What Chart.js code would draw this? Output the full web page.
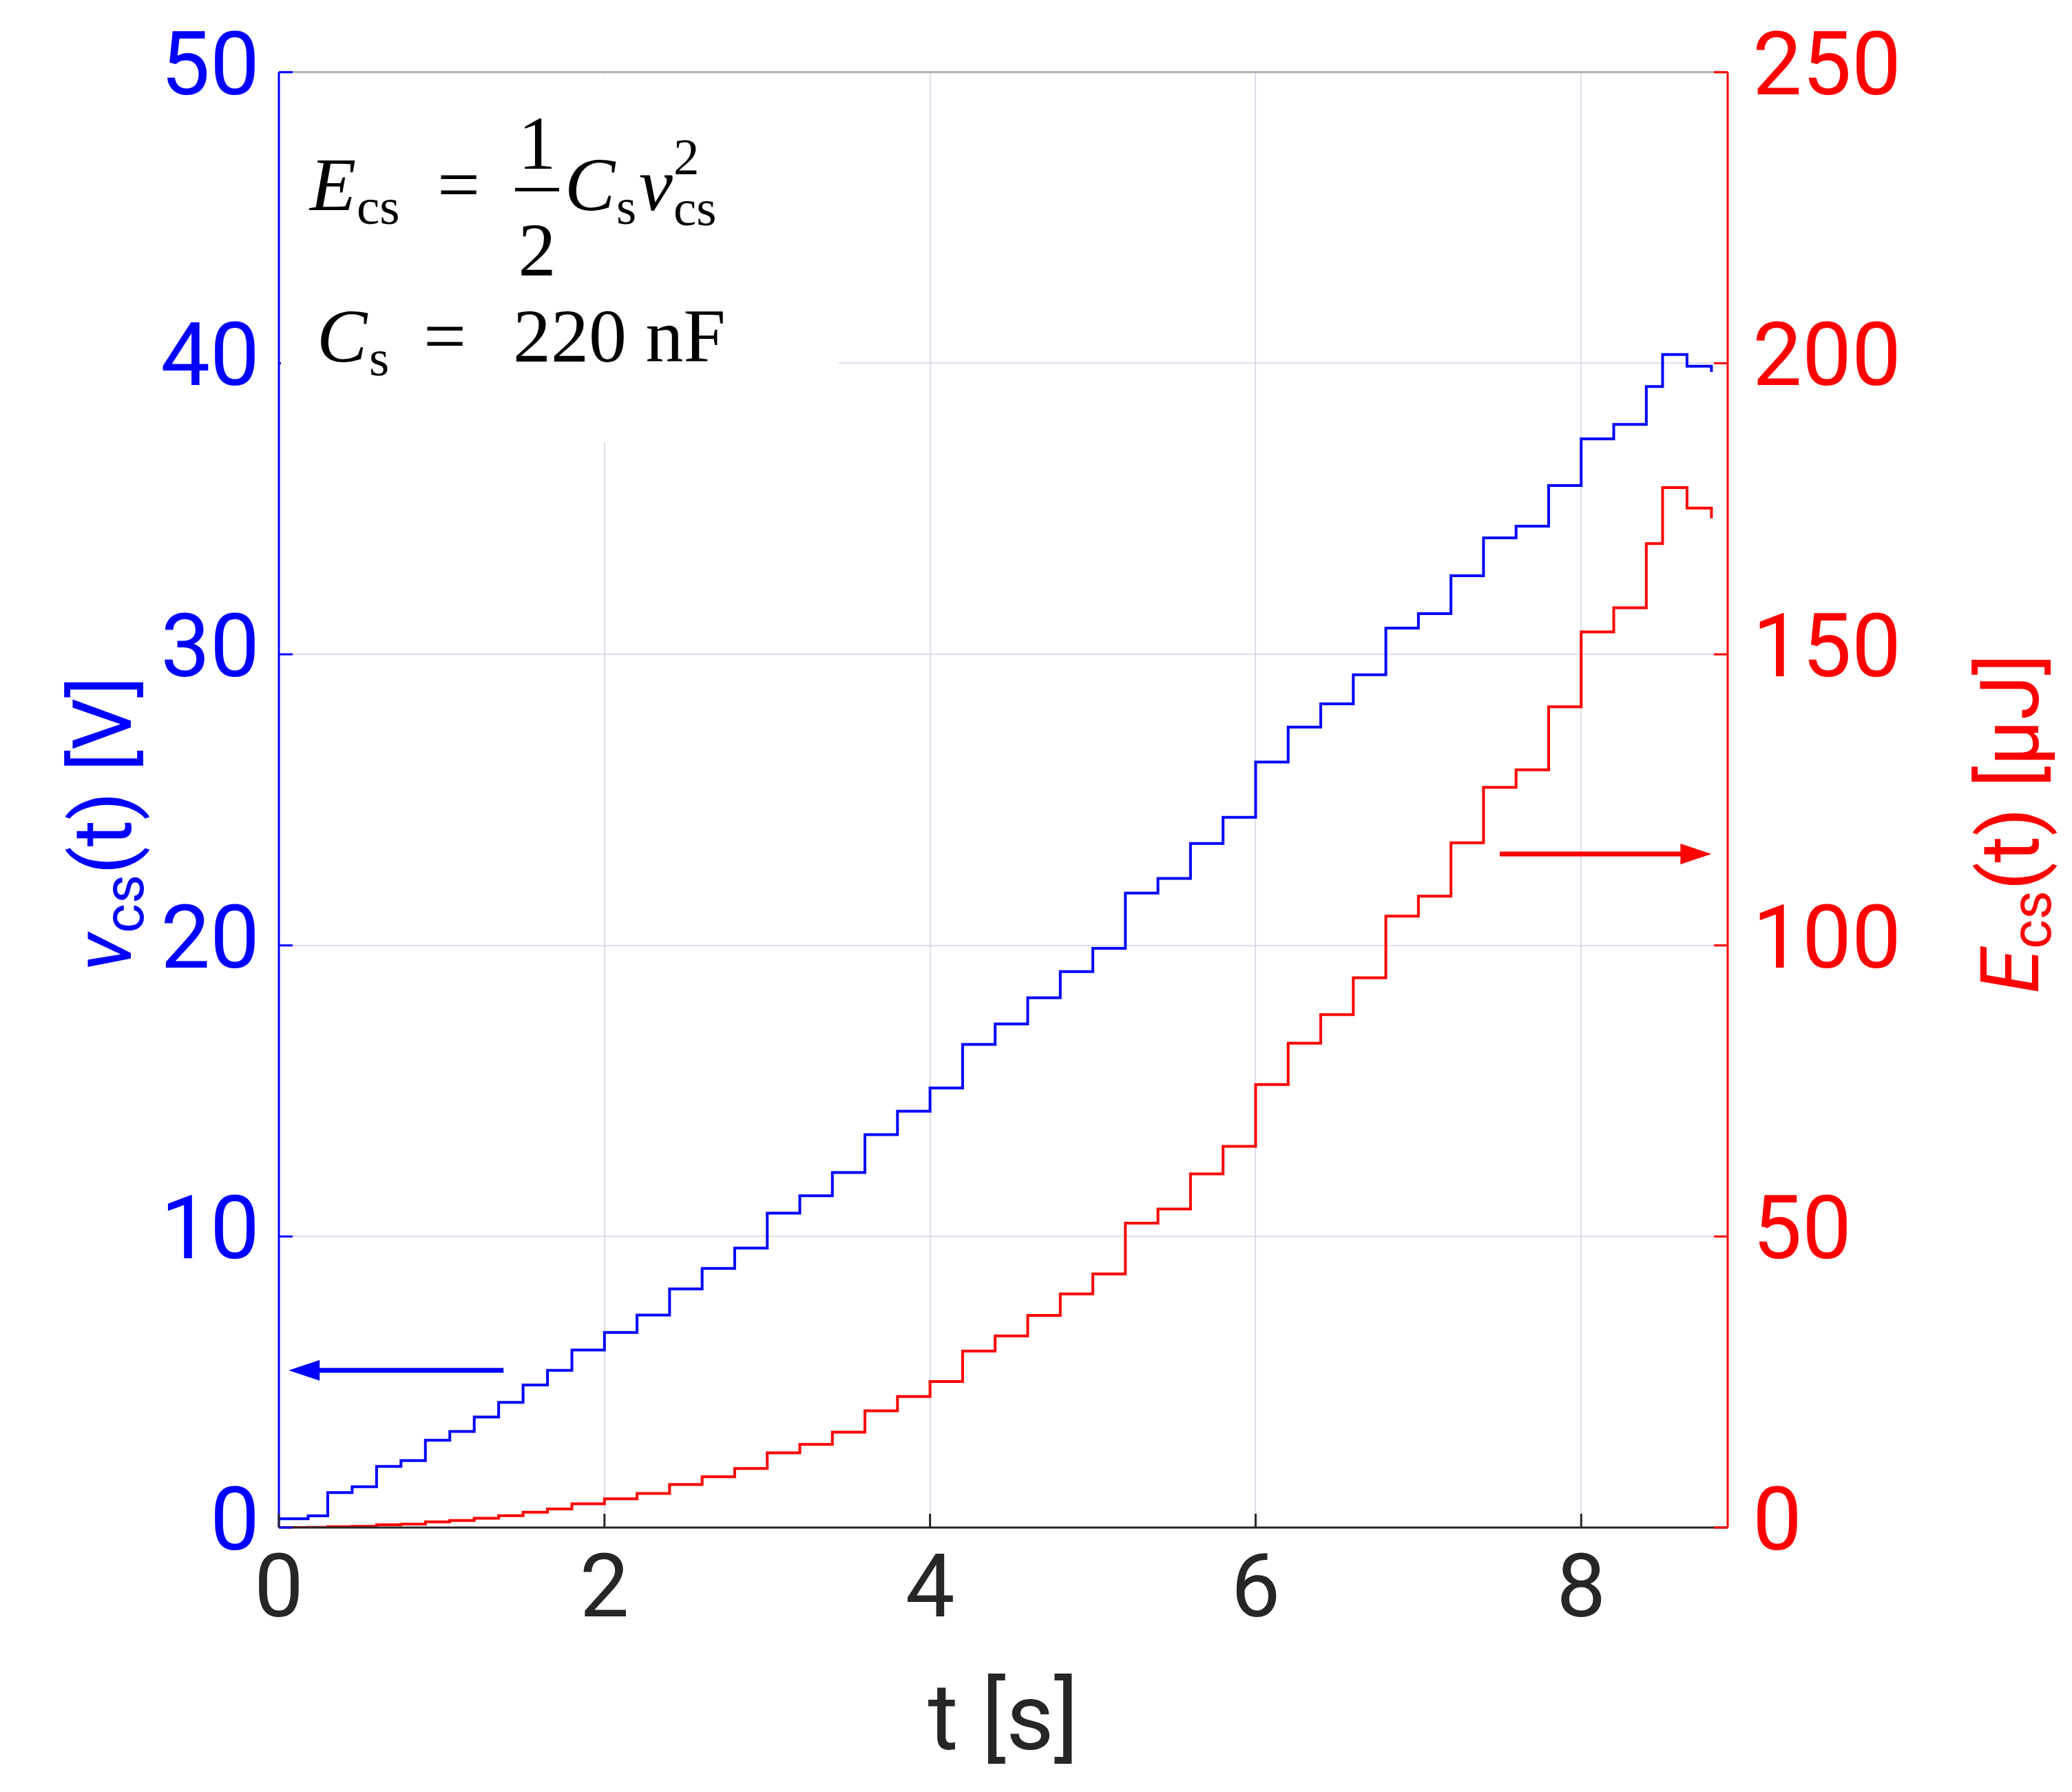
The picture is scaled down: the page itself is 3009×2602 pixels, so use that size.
<!DOCTYPE html>
<html><head><meta charset="utf-8">
<script src="https://cdn.jsdelivr.net/npm/chart.js@4"></script>
<style>html,body{margin:0;padding:0;background:#fff}canvas{display:block}</style>
</head><body>
<canvas id="c" width="3009" height="2602"></canvas>
<script>
// Step times [s] and capacitor voltage levels [V]
const stepTimes = [0,0.18,0.3,0.45,0.6,0.75,0.9,1.05,1.2,1.35,1.5,1.65,1.8,2.0,2.2,2.4,2.6,2.8,3.0,3.2,3.4,3.6,3.8,4.0,4.2,4.4,4.6,4.8,5.0,5.2,5.4,5.6,5.8,6.0,6.2,6.4,6.6,6.8,7.0,7.2,7.4,7.6,7.8,8.0,8.2,8.4,8.5,8.65,8.8];
const vcsLevels = [0.3,0.4,1.2,1.4,2.1,2.3,3.0,3.3,3.8,4.3,4.9,5.4,6.1,6.7,7.3,8.2,8.9,9.6,10.8,11.4,12.2,13.5,14.3,15.1,16.6,17.3,18.2,19.1,19.9,21.8,22.3,23.5,24.4,26.3,27.5,28.3,29.3,30.9,31.4,32.7,34.0,34.4,35.8,37.4,37.9,39.2,40.3,39.9,39.7];
const Cs = 220e-9; // F, from the annotation E = 1/2 Cs v^2
const ecsLevels = vcsLevels.map(v => 0.5 * Cs * v * v * 1e6); // µJ
const xTicks = [0,2,4,6,8];

const BLUE = '#0000ff', RED = '#ff0000', GRID = 'rgba(200,200,225,0.6)';
const vData = stepTimes.map((t,i)=>({x:t,y:vcsLevels[i]}));
const eData = stepTimes.map((t,i)=>({x:t,y:ecsLevels[i]}));

const deco = {
  id:'deco',
  afterDraw(ch){
    const c = ch.ctx, a = ch.chartArea, x = ch.scales.x, yl = ch.scales.y, yr = ch.scales.y2;
    c.save();
    c.lineWidth = 3; c.strokeStyle = '#b0b0b0';
    c.beginPath(); c.moveTo(a.left,a.top); c.lineTo(a.right,a.top); c.stroke();
    c.strokeStyle = '#262626';
    c.beginPath(); c.moveTo(a.left,a.bottom); c.lineTo(a.right,a.bottom); c.stroke();
    c.strokeStyle = BLUE; c.beginPath(); c.moveTo(a.left,a.top); c.lineTo(a.left,a.bottom); c.stroke();
    c.strokeStyle = RED; c.beginPath(); c.moveTo(a.right,a.top); c.lineTo(a.right,a.bottom); c.stroke();
    c.lineWidth = 3;
    [0,10,20,30,40,50].forEach(v=>{const p=yl.getPixelForValue(v);c.strokeStyle=BLUE;c.beginPath();c.moveTo(a.left,p);c.lineTo(a.left+20,p);c.stroke();});
    [0,50,100,150,200,250].forEach(v=>{const p=yr.getPixelForValue(v);c.strokeStyle=RED;c.beginPath();c.moveTo(a.right,p);c.lineTo(a.right-20,p);c.stroke();});
    xTicks.forEach(v=>{const p=x.getPixelForValue(v);c.strokeStyle='#262626';c.beginPath();c.moveTo(p,a.bottom);c.lineTo(p,a.bottom-20);c.stroke();});
    // annotation box
    c.fillStyle='#fff'; c.fillRect(a.left+3,a.top+3,810,535);
    c.fillStyle='#000'; c.textBaseline='alphabetic';
    const S='"Liberation Serif","DejaVu Serif",serif';
    let bx=a.left+45, by=a.top+200;
    c.font='italic 110px '+S; c.fillText('E',bx,by);
    c.font='75px '+S; c.fillText('cs',bx+68,by+20);
    c.font='110px '+S; c.fillText('=',bx+185,by);
    c.textAlign='center'; c.fillText('1',bx+330,by-60); c.fillText('2',bx+330,by+95);
    c.fillRect(bx+298,by-32,64,5); c.textAlign='left';
    c.font='italic 110px '+S; c.fillText('C',bx+370,by);
    c.font='75px '+S; c.fillText('s',bx+445,by+20);
    c.font='italic 110px '+S; c.fillText('v',bx+478,by);
    c.font='75px '+S; c.fillText('cs',bx+528,by+22); c.fillText('2',bx+528,by-52);
    by=a.top+420; bx=a.left+55;
    c.font='italic 110px '+S; c.fillText('C',bx,by);
    c.font='75px '+S; c.fillText('s',bx+76,by+20);
    c.font='110px '+S; c.fillText('=',bx+155,by); c.fillText('220 nF',bx+285,by);
    const arrow=(x1,x2,y,col)=>{c.strokeStyle=col;c.fillStyle=col;c.lineWidth=7;c.beginPath();c.moveTo(x1,y);c.lineTo(x2-(x2>x1?30:-30),y);c.stroke();
      const d=x2>x1?1:-1;c.beginPath();c.moveTo(x2,y);c.lineTo(x2-d*45,y-15);c.lineTo(x2-d*45,y+15);c.closePath();c.fill();};
    arrow(x.getPixelForValue(1.38),x.getPixelForValue(0.06),yl.getPixelForValue(5.4),BLUE);
    arrow(x.getPixelForValue(7.5),x.getPixelForValue(8.8),yr.getPixelForValue(115.7),RED);
    const F='Roboto,"Liberation Sans",Arial,sans-serif';
    c.textAlign='center'; c.fillStyle='#262626'; c.font='135px '+F;
    c.fillText('t [s]',(a.left+a.right)/2,2540);
    const vt=(cx,cy,parts,col)=>{c.save();c.translate(cx,cy);c.rotate(-Math.PI/2);c.fillStyle=col;c.textAlign='left';
      let w=0;parts.forEach(p=>{c.font=p[1];w+=c.measureText(p[0]).width;});let px=-w/2;
      parts.forEach(p=>{c.font=p[1];c.fillText(p[0],px,p[2]);px+=c.measureText(p[0]).width;});c.restore();};
    vt(150,1196,[['v','italic 118px '+F,40],['cs','82px '+F,58],['(t) [V]','118px '+F,40]],BLUE);
    vt(2920,1196,[['E','italic 118px '+F,40],['cs','82px '+F,58],['(t) [µJ]','118px '+F,40]],RED);
    c.restore();
  }
};

const TF = {size:128,family:'Roboto,"Liberation Sans",sans-serif'};
new Chart(document.getElementById('c'),{
  type:'line',
  data:{datasets:[
    {data:vData,yAxisID:'y',borderColor:BLUE,borderWidth:4,stepped:'before',pointRadius:0},
    {data:eData,yAxisID:'y2',borderColor:RED,borderWidth:4,stepped:'before',pointRadius:0}
  ]},
  options:{responsive:false,animation:false,devicePixelRatio:1,
    layout:{padding:{top:100,left:0,right:0,bottom:0}},
    plugins:{legend:{display:false},tooltip:{enabled:false}},
    scales:{
      x:{type:'linear',min:0,max:8.9,afterFit:s=>{s.height=384;},
        afterBuildTicks:s=>{s.ticks=xTicks.map(v=>({value:v}));},
        grid:{color:GRID,lineWidth:2,drawTicks:false},border:{display:false},
        ticks:{color:'#262626',font:TF,padding:20}},
      y:{position:'left',min:0,max:50,afterFit:s=>{s.width=405;},
        grid:{color:GRID,lineWidth:2,drawTicks:false},border:{display:false},
        ticks:{stepSize:10,color:BLUE,font:TF,padding:28}},
      y2:{position:'right',min:0,max:250,afterFit:s=>{s.width=500;},
        grid:{display:false},border:{display:false},
        ticks:{stepSize:50,color:RED,font:TF,padding:28}}
    }},
  plugins:[deco]
});
</script>
</body></html>
